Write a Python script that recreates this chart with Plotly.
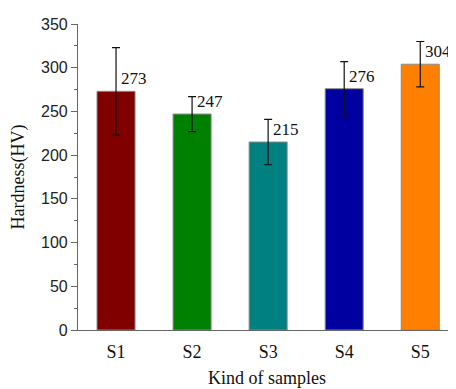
import plotly.graph_objects as go

categories = ["S1", "S2", "S3", "S4", "S5"]
hardness = [273, 247, 215, 276, 304]
errors = [50, 20, 26, 31, 26]
colors = ["#800000", "#008000", "#008080", "#0000A0", "#FF8000"]

xpos = [1, 2, 3, 4, 5]
SERIF = "Liberation Serif"

fig = go.Figure()
fig.add_trace(go.Bar(
    x=xpos, y=hardness, width=0.5,
    marker=dict(color=colors, line=dict(color="#8a8a8a", width=1)),
    error_y=dict(type="data", array=errors, visible=True, color="#111111",
                 thickness=1.2, width=4),
    showlegend=False,
))

for xv, yv in zip(xpos, hardness):
    fig.add_annotation(x=xv, y=yv, text=str(yv), showarrow=False,
                       xanchor="left", yanchor="bottom", xshift=3, yshift=1,
                       font=dict(family=SERIF, size=17, color="#111111"))

fig.add_annotation(x=0.5, y=0, xref="paper", yref="paper", text="Kind of samples",
                   showarrow=False, xanchor="center", yanchor="top", yshift=-36,
                   font=dict(family=SERIF, size=18, color="#111111"))

fig.update_layout(
    width=448, height=381,
    margin=dict(l=70, r=0, t=16, b=59, autoexpand=False),
    plot_bgcolor="white", paper_bgcolor="white",
    bargap=0.5,
)
fig.update_xaxes(
    range=[0.5, 5.47], tickvals=xpos, ticktext=categories,
    showline=True, linecolor="#666666", linewidth=1.2, ticks="",
    showgrid=False, zeroline=False,
    tickfont=dict(family=SERIF, size=18, color="#111111"),
    ticklabelstandoff=5,
)
fig.update_yaxes(
    range=[0, 350], tickvals=[0, 50, 100, 150, 200, 250, 300, 350],
    showline=True, linecolor="#666666", linewidth=1.2,
    ticks="outside", ticklen=6, tickcolor="#666666", tickwidth=1.2,
    minor=dict(dtick=25, ticks="outside", ticklen=3, tickcolor="#666666", showgrid=False),
    showgrid=False, zeroline=False,
    tickfont=dict(family="Liberation Sans", size=16, color="#222222"),
    title=dict(text="Hardness(HV)", standoff=12,
               font=dict(family=SERIF, size=18, color="#111111")),
)

fig.write_html("out.html")
